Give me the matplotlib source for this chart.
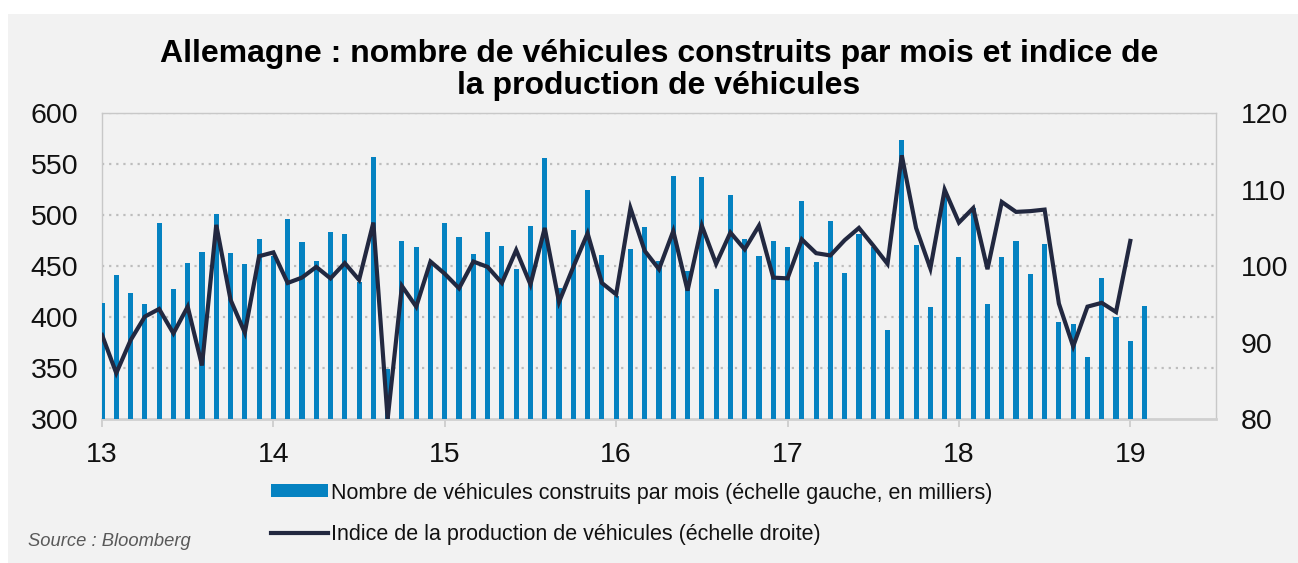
import matplotlib
matplotlib.use("Agg")
import matplotlib.pyplot as plt
from matplotlib.patches import Rectangle
import numpy as np

plt.rcParams['font.family'] = ['Liberation Sans', 'DejaVu Sans']

# Monthly data, Jan 2013 onward
vehicles = [
    414, 441, 424, 413, 492, 428, 453, 464, 501, 463, 452, 477,   # 2013
    460, 496, 474, 455, 484, 482, 434, 557, 349, 475, 469, 454,   # 2014
    492, 479, 462, 484, 470, 447, 489, 556, 429, 485, 525, 461,   # 2015
    421, 467, 488, 455, 538, 445, 537, 428, 520, 477, 460, 475,   # 2016
    469, 514, 454, 494, 443, 482, 469, 387, 574, 471, 410, 519,   # 2017
    459, 507, 413, 459, 475, 442, 472, 395, 393, 361, 438, 400,   # 2018
    377, 411,                                                     # 2019
]
index = [
    91.0, 86.0, 90.3, 93.4, 94.4, 91.2, 94.7, 87.0, 105.4, 95.6, 91.3, 101.3,
    101.8, 97.8, 98.5, 99.9, 98.4, 100.4, 98.2, 105.7, 80.0, 97.4, 94.7, 100.6,
    99.0, 97.1, 100.6, 99.9, 97.8, 102.1, 97.6, 105.0, 95.3, 99.9, 104.3, 97.8,
    96.3, 107.6, 102.0, 99.6, 104.6, 96.8, 105.3, 100.3, 104.4, 102.2, 105.3, 98.5,
    98.4, 103.5, 101.7, 101.4, 103.4, 105.0, 102.7, 100.3, 114.5, 105.0, 99.7, 110.0,
    105.7, 107.6, 99.6, 108.4, 107.1, 107.2, 107.4, 95.1, 89.5, 94.7, 95.2, 94.0,
    103.3,
]
start_year = 13
year_ticks = [13, 14, 15, 16, 17, 18, 19]
left_ticks = [300, 350, 400, 450, 500, 550, 600]
right_ticks = [80, 90, 100, 110, 120]

title = "Allemagne : nombre de véhicules construits par mois et indice de\nla production de véhicules"
label_bars = "Nombre de véhicules construits par mois (échelle gauche, en milliers)"
label_line = "Indice de la production de véhicules (échelle droite)"
source = "Source : Bloomberg"

BAR = '#0582C1'
LINE = '#222840'
BG = '#F2F2F2'

W, H = 1298, 563
fig = plt.figure(figsize=(W / 100, H / 100), dpi=100, facecolor='white')
fig.patches.append(Rectangle((8 / W, 0), 1, (H - 14) / H, transform=fig.transFigure,
                             facecolor=BG, edgecolor='none', zorder=-10))

L, R, T, B = 102, 1216, 113.3, 419
ax = fig.add_axes([L / W, 1 - B / H, (R - L) / W, (B - T) / H])
ax.set_facecolor(BG)

xb = start_year + np.arange(len(vehicles)) / 12.0
xl = start_year + np.arange(len(index)) / 12.0

bars = ax.bar(xb, np.array(vehicles) - 300, bottom=300, width=0.03, color=BAR,
              zorder=3, label=label_bars)
ax.set_ylim(300, 600)
ax.set_xlim(13, 19.5)
ax.set_yticks(left_ticks)
ax.set_xticks(year_ticks)
ax.set_xticklabels([str(y) for y in year_ticks])
for v in left_ticks[1:]:
    ax.axhline(v, color='#BDBDBD', lw=1.6, ls=(0, (1, 2.2)), zorder=1)

for s in ['left', 'right', 'top']:
    ax.spines[s].set_color('#C8C8C8')
    ax.spines[s].set_linewidth(1.0)
ax.spines['bottom'].set_color('#D0D0D0')
ax.spines['bottom'].set_linewidth(2.0)
ax.tick_params(axis='y', length=0, pad=17, labelsize=20.5, labelcolor='#111111')
ax.tick_params(axis='x', length=5.8, width=1.4, color='#D0D0D0', pad=11,
               labelsize=20.5, labelcolor='#111111')

ax2 = ax.twinx()
line, = ax2.plot(xl, index, color=LINE, lw=3.0, solid_joinstyle='miter',
                 label=label_line, zorder=4)
ax2.set_ylim(80, 120)
ax2.set_yticks(right_ticks)
ax2.tick_params(axis='y', length=0, pad=18, labelsize=20.5, labelcolor='#111111')
for s in ax2.spines.values():
    s.set_visible(False)

fig.text(659 / W, 1 - 70 / H, title, ha='center', va='center', fontsize=23,
         fontweight='bold', color='#000000', linespacing=1.12)

leg = fig.legend([bars, line], [label_bars, label_line],
                 loc='upper left', bbox_to_anchor=(271 / W, 1 - 482.5 / H),
                 frameon=False, fontsize=15.5, handlelength=2.65,
                 handleheight=0.56, handletextpad=0.14, labelspacing=0.95,
                 borderpad=0, borderaxespad=0)
for t in leg.get_texts():
    t.set_color('#111111')

fig.text(28 / W, 1 - 541 / H, source, ha='left', va='center', fontsize=13.2,
         style='italic', color='#595959')

fig.savefig('out.png', dpi=100, facecolor=fig.get_facecolor())
